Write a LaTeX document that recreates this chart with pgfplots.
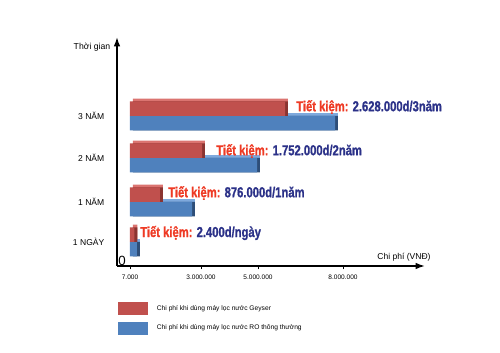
\documentclass[border=0pt]{standalone}
\usepackage{fontspec}
\setmainfont{Liberation Sans}
\newfontfamily\savfont[BoldFeatures={FakeBold=1.2}]{Liberation Sans}
\usepackage{pgfplots}
\pgfplotsset{compat=1.18}
\usetikzlibrary{arrows.meta}
\definecolor{redF}{HTML}{C0504D}
\definecolor{redT}{HTML}{DB7470}
\definecolor{redS}{HTML}{8A3431}
\definecolor{bluF}{HTML}{4F81BD}
\definecolor{bluT}{HTML}{7EA9DD}
\definecolor{bluS}{HTML}{2E4E78}
\definecolor{savR}{HTML}{EE3A24}
\definecolor{savB}{HTML}{2B3188}
\newcommand{\sav}[1]{\scalebox{0.78}[1]{\fontsize{10.8}{12}\savfont\bfseries\textcolor{savR}{Tiết kiệm:} \textcolor{savB}{#1}}}
\begin{document}
\begin{tikzpicture}
\useasboundingbox (-97.5pt,-65.25pt) rectangle (277.5pt,199.5pt);
\begin{axis}[
  anchor=origin, at={(0pt,0pt)},
  x=0.75pt, y=0.75pt,
  xmin=-13, xmax=295, ymin=0, ymax=229,
  axis lines=left,
  axis line style={line width=1.3pt, -{Latex[length=7pt,width=5pt]}},
  clip=false,
  xtick={0,71,128,213},
  xticklabels={7.000,3.000.000,5.000.000,8.000.000},
  xticklabel style={font=\fontsize{4.9}{6}\selectfont, yshift=-1pt},
  xtick style={black, line width=0.5pt},
  tick align=outside, major tick length=2.5pt,
  ytick={150,108,64,24},
  yticklabels={3 NĂM,2 NĂM,1 NĂM,1 NGÀY},
  yticklabel style={font=\fontsize{6.4}{8}\selectfont, xshift=-3.5pt},
  ytick style={draw=none},
  xbar, bar shift=0pt, bar width=14.5,
  legend image code/.code={\fill[#1] (0pt,-4.9pt) rectangle (22.5pt,4.9pt);},
  legend cell align=left,
  legend style={at={(axis cs:-12,-36)}, anchor=north west, draw=none, fill=none,
    font=\fontsize{5}{6}\selectfont, row sep=5pt, inner sep=0pt,
    nodes={inner xsep=0pt, xshift=0pt},
    /tikz/every odd column/.append style={column sep=6.5pt}},
]
\addlegendimage{fill=redF, draw=none}
\addlegendentry{Chi phí khi dùng máy lọc nước Geyser}
\addlegendimage{fill=bluF, draw=none}
\addlegendentry{Chi phí khi dùng máy lọc nước RO thông thường}
% blue series (RO)
\addplot[forget plot, fill=bluT, draw=none, xshift=2.2pt, yshift=2.2pt] coordinates {(205,142.75) (127,100.75) (62,56.75) (7,16.75)};
\addplot[forget plot, fill=bluS, draw=none, xshift=2.2pt] coordinates {(205,142.75) (127,100.75) (62,56.75) (7,16.75)};
\addplot[forget plot, fill=bluF, draw=none] coordinates {(205,142.75) (127,100.75) (62,56.75) (7,16.75)};
% red series (Geyser)
\addplot[forget plot, fill=redT, draw=none, xshift=2.2pt, yshift=2.2pt] coordinates {(155,157.25) (72,115.25) (30,71.25) (4.5,31.25)};
\addplot[forget plot, fill=redS, draw=none, xshift=2.2pt] coordinates {(155,157.25) (72,115.25) (30,71.25) (4.5,31.25)};
\addplot[forget plot, fill=redF, draw=none] coordinates {(155,157.25) (72,115.25) (30,71.25) (4.5,31.25)};
\node[font=\fontsize{6.5}{8}\selectfont] at (axis cs:-38,219) {Thời gian};
\node[font=\fontsize{10}{12}\selectfont, inner sep=0pt] at (axis cs:-8,5.5) {0};
\node[font=\fontsize{6.4}{8}\selectfont, inner sep=0pt] at (axis cs:274,9) {Chi phí (VNĐ)};
\node[anchor=west, inner sep=0pt] at (axis cs:166,159) {\sav{2.628.000d/3năm}};
\node[anchor=west, inner sep=0pt] at (axis cs:86,115) {\sav{1.752.000d/2năm}};
\node[anchor=west, inner sep=0pt] at (axis cs:38,73) {\sav{876.000d/1năm}};
\node[anchor=west, inner sep=0pt] at (axis cs:10,33) {\sav{2.400d/ngày}};
\end{axis}
\end{tikzpicture}
\end{document}
